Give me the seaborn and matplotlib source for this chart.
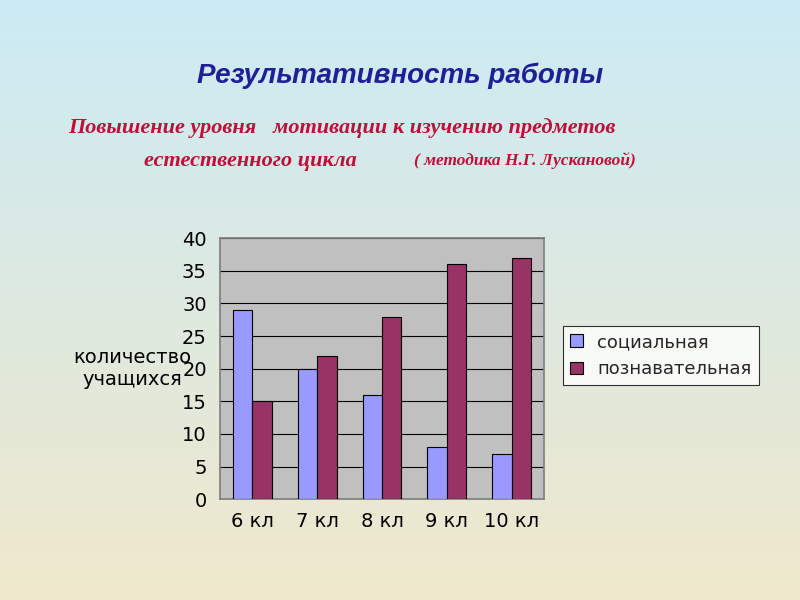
import numpy as np
import pandas as pd
import matplotlib
matplotlib.use("Agg")
import matplotlib.pyplot as plt
import seaborn as sns

classes = ["6 кл", "7 кл", "8 кл", "9 кл", "10 кл"]
social = [29, 20, 16, 8, 7]
cognitive = [15, 22, 28, 36, 37]
series_names = ["социальная", "познавательная"]

data = pd.DataFrame({
    "Класс": classes * 2,
    "Количество": social + cognitive,
    "Мотивация": [series_names[0]] * 5 + [series_names[1]] * 5,
})

sns.set_theme(style="white")
plt.rcParams["font.family"] = ["Liberation Sans Narrow", "DejaVu Sans"]

fig = plt.figure(figsize=(8, 6), dpi=100)

# background gradient: light blue at top to beige at bottom
bg = fig.add_axes([0, 0, 1, 1], zorder=-1)
top = np.array([0.80, 0.92, 0.96])
bottom = np.array([0.94, 0.91, 0.80])
t = np.linspace(0, 1, 256)[:, None]
grad = top * (1 - t) + bottom * t
bg.imshow(grad[:, None, :].repeat(2, axis=1), aspect="auto", extent=[0, 1, 0, 1])
bg.axis("off")

fig.text(0.5, 0.873, "Результативность работы", ha="center", va="center", fontsize=20,
         style="italic", weight="bold", color="#1f1f9a", family="Liberation Sans")
fig.text(0.085, 0.787, "Повышение уровня   мотивации к изучению предметов",
         ha="left", va="center", fontsize=16, style="italic", weight="bold",
         color="#c0103a", family="Liberation Serif")
fig.text(0.18, 0.732, "естественного цикла", ha="left", va="center", fontsize=16,
         style="italic", weight="bold", color="#c0103a", family="Liberation Serif")
fig.text(0.517, 0.732, "( методика Н.Г. Лускановой)", ha="left", va="center",
         fontsize=12.5, style="italic", weight="bold", color="#c0103a",
         family="Liberation Serif")

ax = fig.add_axes([0.275, 0.168, 0.405, 0.435])
ax.set_facecolor("#c0c0c0")
sns.barplot(data=data, x="Класс", y="Количество", hue="Мотивация",
            palette=["#9999ff", "#993366"], saturation=1, width=0.6,
            edgecolor="black", linewidth=0.8, ax=ax, zorder=3)
ax.set_ylim(0, 40)
ax.set_yticks(range(0, 41, 5))
ax.yaxis.grid(True, color="black", linewidth=0.8)
ax.set_axisbelow(True)
for s in ax.spines.values():
    s.set_color("#808080")
ax.set_xlabel("")
ax.set_ylabel("количество\nучащихся", rotation=0, fontsize=14, labelpad=36,
              va="center", color="black")
ax.tick_params(axis="both", labelsize=14, left=False, bottom=False,
               labelcolor="black")

leg = ax.legend(loc="center left", bbox_to_anchor=(1.03, 0.55), fontsize=13,
                frameon=True, fancybox=False, edgecolor="black",
                facecolor="white", handlelength=0.7)
leg.get_frame().set_linewidth(0.8)

fig.savefig("out.png", dpi=100)
